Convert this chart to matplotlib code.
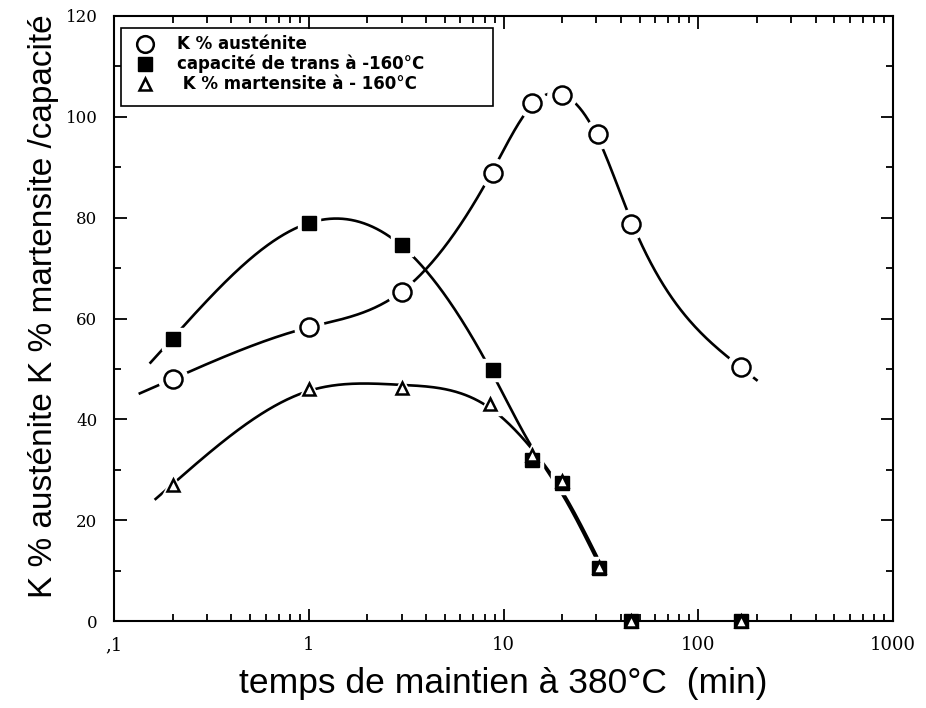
import numpy as np
import matplotlib
matplotlib.use("Agg")
import matplotlib.pyplot as plt
from matplotlib.patches import Rectangle
from matplotlib.ticker import FixedLocator, FixedFormatter, MultipleLocator, LogLocator, NullFormatter

# ---------------- data ----------------
aus_t = [0.2, 1, 3, 8.8, 14, 20, 30.5, 45, 165]
aus_v = [48, 58.3, 65.3, 88.9, 102.8, 104.4, 96.6, 78.8, 50.4]

cap_t = [0.2, 1, 3, 8.8, 14, 20, 31, 45, 165]
cap_v = [56, 79, 74.5, 49.8, 32, 27.4, 10.5, 0, 0]

mart_t = [0.2, 1, 3, 8.5, 14, 20, 31, 45, 165]
mart_v = [27, 46, 46.2, 43, 33, 27.8, 10.7, 0, 0]

xtick_vals = [0.1, 1, 10, 100, 1000]
xtick_labels = [",1", "1", "10", "100", "1000"]
ytick_vals = [0, 20, 40, 60, 80, 100, 120]

legend_labels = ["K % austénite", "capacité de trans à -160°C", " K % martensite à - 160°C"]
xlabel = "temps de maintien à 380°C  (min)"
ylabel = "K % austénite K % martensite /capacité"

# ---------------- figure ----------------
fig = plt.figure(figsize=(9.26, 7.08), dpi=100)
ax = fig.add_axes([114/926, 1-621/708, 779/926, 605/708])
ax.set_xscale("log")
ax.set_xlim(0.1, 1000)
ax.set_ylim(0, 120)

LW = 1.9


def natural_spline(x, y, xs):
    x = np.asarray(x, float); y = np.asarray(y, float)
    n = len(x)
    h = np.diff(x)
    A = np.zeros((n, n)); b = np.zeros(n)
    A[0, 0] = A[-1, -1] = 1
    for i in range(1, n-1):
        A[i, i-1] = h[i-1]; A[i, i] = 2*(h[i-1]+h[i]); A[i, i+1] = h[i]
        b[i] = 6*((y[i+1]-y[i])/h[i] - (y[i]-y[i-1])/h[i-1])
    M = np.linalg.solve(A, b)
    idx = np.clip(np.searchsorted(x, xs) - 1, 0, n-2)
    x0, x1 = x[idx], x[idx+1]
    hh = x1 - x0
    t0 = x1 - xs; t1 = xs - x0
    return (M[idx]*t0**3/(6*hh) + M[idx+1]*t1**3/(6*hh)
            + (y[idx]/hh - M[idx]*hh/6)*t0 + (y[idx+1]/hh - M[idx+1]*hh/6)*t1)


def smoothing_values(x, y, lam):
    """Reinsch smoothing spline: fitted values at the knots."""
    x = np.asarray(x, float); y = np.asarray(y, float)
    n = len(x); h = np.diff(x)
    Q = np.zeros((n, n-2)); R = np.zeros((n-2, n-2))
    for j in range(1, n-1):
        Q[j-1, j-1] = 1/h[j-1]
        Q[j, j-1] = -1/h[j-1] - 1/h[j]
        Q[j+1, j-1] = 1/h[j]
        R[j-1, j-1] = (h[j-1]+h[j])/3
        if j < n-2:
            R[j-1, j] = R[j, j-1] = h[j]/6
    gam = np.linalg.solve(R + lam*Q.T@Q, Q.T@y)
    return y - lam*Q@gam


def smooth_curve(xs, ys, lam, ext_start=0.0, ext_end=0.0):
    disp = ax.transData.transform(np.column_stack([xs, ys]))
    X, Y = disp[:, 0], disp[:, 1]
    G = smoothing_values(X, Y, lam)
    xx = np.linspace(X[0], X[-1], 400)
    yy = natural_spline(X, G, xx)
    if ext_start > 0:
        s = (yy[1]-yy[0])/(xx[1]-xx[0])
        xx = np.concatenate([[xx[0]-ext_start], xx]); yy = np.concatenate([[yy[0]-s*ext_start], yy])
    if ext_end > 0:
        s = (yy[-1]-yy[-2])/(xx[-1]-xx[-2])
        xx = np.concatenate([xx, [xx[-1]+ext_end]]); yy = np.concatenate([yy, [yy[-1]+s*ext_end]])
    return ax.transData.inverted().transform(np.column_stack([xx, yy]))

fig.canvas.draw()

c1 = smooth_curve(aus_t, aus_v, 1500, 34, 17)
c2 = smooth_curve(cap_t[:7], cap_v[:7], 6000, 23, 0)
c3 = smooth_curve(mart_t[:7], mart_v[:7], 12000, 18, 0)
for c in (c1, c2, c3):
    ax.plot(c[:, 0], c[:, 1], color="black", lw=LW, solid_capstyle="butt", zorder=2)

# white halos produce gaps in the curves around markers
ax.plot(aus_t, aus_v, ls="none", marker="o", ms=21, mfc="white", mec="white", zorder=3)
ax.plot(cap_t[:7], cap_v[:7], ls="none", marker="s", ms=16, mfc="white", mec="white", zorder=3)
ax.plot(mart_t[:7], mart_v[:7], ls="none", marker="^", ms=16, mfc="white", mec="white", zorder=3)

ax.plot(aus_t, aus_v, ls="none", marker="o", ms=13, mfc="white", mec="black", mew=1.8, zorder=4)
ax.plot(cap_t, cap_v, ls="none", marker="s", ms=9.5, mfc="black", mec="black", mew=1.0, zorder=5, clip_on=False)
ax.plot(mart_t, mart_v, ls="none", marker="^", ms=8.5, mfc="white", mec="black", mew=1.8, zorder=6, clip_on=False)

# ---------------- axes styling ----------------
ax.xaxis.set_major_locator(FixedLocator(xtick_vals))
ax.xaxis.set_major_formatter(FixedFormatter(xtick_labels))
ax.xaxis.set_minor_locator(LogLocator(base=10, subs=np.arange(2, 10)))
ax.xaxis.set_minor_formatter(NullFormatter())
ax.yaxis.set_major_locator(FixedLocator(ytick_vals))
ax.yaxis.set_minor_locator(MultipleLocator(10))

ax.tick_params(which="both", direction="in", top=True, right=True, width=1.3, colors="black")
ax.tick_params(which="major", length=9)
ax.tick_params(which="minor", length=5)
ax.tick_params(axis="x", which="major", pad=11)
ax.tick_params(axis="y", which="major", pad=12)
for lab in ax.get_xticklabels():
    lab.set_fontfamily("DejaVu Serif")
    lab.set_fontsize(13)
for lab in ax.get_yticklabels():
    lab.set_fontfamily("DejaVu Serif")
    lab.set_fontsize(12)
for s in ax.spines.values():
    s.set_linewidth(1.5)

ax.set_xlabel(xlabel, fontfamily="Liberation Sans", fontsize=25.5, labelpad=9)
ax.set_ylabel(ylabel, fontfamily="Liberation Sans", fontsize=24)
ax.yaxis.set_label_coords(-0.071, 0.52)

# ---------------- legend (manual box) ----------------
ax.add_patch(Rectangle((0.009, 0.851), 0.4775, 0.129, transform=ax.transAxes,
                       fill=False, ec="black", lw=1.2, zorder=7))
leg_markers = [dict(marker="o", ms=12, mfc="white", mec="black", mew=1.8),
               dict(marker="s", ms=10, mfc="black", mec="black"),
               dict(marker="^", ms=8, mfc="white", mec="black", mew=1.8)]
leg_y = [0.9537, 0.9207, 0.8876]
for lab, mk, yy in zip(legend_labels, leg_markers, leg_y):
    ax.plot([0.0398], [yy], ls="none", transform=ax.transAxes, zorder=8, clip_on=False, **mk)
    ax.text(0.081, yy, lab, transform=ax.transAxes, fontfamily="DejaVu Sans",
            fontsize=12, fontweight="bold", va="center", ha="left", zorder=8)

fig.savefig("out.png", dpi=100)
